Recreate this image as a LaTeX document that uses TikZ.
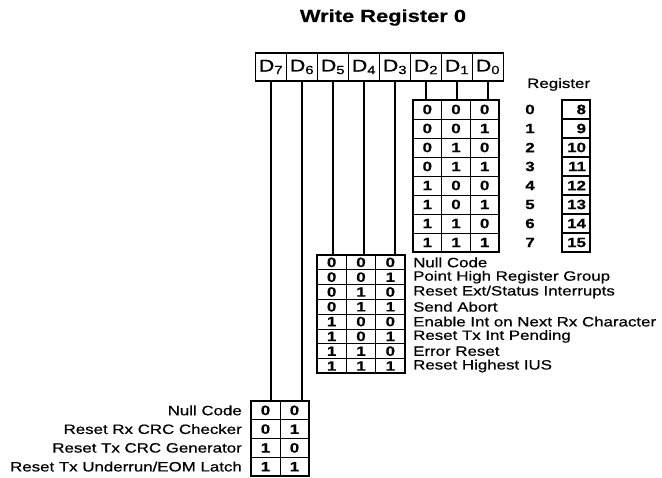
\documentclass[tikz,border=0pt]{standalone}
\usepackage{fontspec}
\setmainfont{Liberation Sans}[FakeStretch=1.25, FakeBold=0.6]
\begin{document}
\begin{tikzpicture}[x=1pt,y=-1pt]
\tikzset{
  hcell/.style={draw, line width=1.4pt, minimum width=31pt, minimum height=28pt, inner sep=0pt, font=\fontsize{17}{17}\selectfont},
  tbl/.style={draw, line width=1.8pt, inner sep=0pt},
  gridline/.style={line width=0.9pt},
  bit/.style={inner sep=0pt, font=\fontsize{13.5}{13.5}\selectfont\bfseries},
  lab/.style={inner sep=0pt, font=\fontsize{13.5}{13.5}\selectfont},
  wire/.style={line width=2pt},
  rcell/.style={draw, line width=1.3pt, minimum width=28pt, minimum height=19pt, inner sep=0pt, text width=20pt, align=right, font=\fontsize{13.5}{13.5}\selectfont\bfseries},
}
\useasboundingbox (0,0) rectangle (662,478);
\node[font=\fontsize{17.5}{17.5}\selectfont\bfseries] (title) at (383,17.5) {Write Register 0};
% header
\foreach \i in {0,...,7}
  \node[hcell] (d\i) at ({271+31*(7-\i)},67) {D\textsubscript{\i}};
% upper table
\node[tbl, minimum width=86pt, minimum height=152pt] (up) at (456,176) {};
\foreach \k in {1,2} \draw[gridline] ({413+28.67*\k},100) -- ({413+28.67*\k},252);
\foreach \r in {1,...,7} \draw[gridline] (413,{100+19*\r}) -- (499,{100+19*\r});
\foreach \r in {0,...,7} \foreach \c in {0,1,2} {
  \pgfmathtruncatemacro\b{mod(floor(\r/(2^(2-\c))),2)}
  \node[bit] (u\r\c) at ({427.33+28.67*\c},{109.5+19*\r}) {\b};
}
\foreach \i in {0,1,2} \draw[wire] (d\i.south) -- (d\i.south |- up.north);
% register column
\node[lab, anchor=south west] (reglab) at (527,91) {Register};
\foreach \r in {0,...,7} {
  \pgfmathtruncatemacro\n{\r+8}
  \node[bit] (rn\r) at (530,{109.5+19*\r}) {\r};
  \node[rcell] (rb\r) at (576,{109.5+19*\r}) {\n};
}
% middle table
\node[tbl, minimum width=88pt, minimum height=118.4pt] (mid) at (361,314.2) {};
\foreach \k in {1,2} \draw[gridline] ({317+29.33*\k},255) -- ({317+29.33*\k},373.4);
\foreach \r in {1,...,7} \draw[gridline] (317,{255+14.8*\r}) -- (405,{255+14.8*\r});
\foreach \r in {0,...,7} \foreach \c in {0,1,2} {
  \pgfmathtruncatemacro\b{mod(floor(\r/(2^(2-\c))),2)}
  \node[bit] (m\r\c) at ({331.67+29.33*\c},{262.4+14.8*\r}) {\b};
}
\foreach \i in {3,4,5} \draw[wire] (d\i.south) -- (d\i.south |- mid.north);
\node[lab, anchor=west] (ml0) at (413,262.4) {Null Code};
\node[lab, anchor=west] (ml1) at (413,277.2) {Point High Register Group};
\node[lab, anchor=west] (ml2) at (413,292.0) {Reset Ext/Status Interrupts};
\node[lab, anchor=west] (ml3) at (413,306.8) {Send Abort};
\node[lab, anchor=west] (ml4) at (413,321.6) {Enable Int on Next Rx Character};
\node[lab, anchor=west] (ml5) at (413,336.4) {Reset Tx Int Pending};
\node[lab, anchor=west] (ml6) at (413,351.2) {Error Reset};
\node[lab, anchor=west] (ml7) at (413,366.0) {Reset Highest IUS};
% bottom table
\node[tbl, minimum width=58pt, minimum height=75pt] (bot) at (280,438.5) {};
\draw[gridline] (280,401) -- (280,476);
\foreach \r in {1,2,3} \draw[gridline] (251,{401+18.75*\r}) -- (309,{401+18.75*\r});
\foreach \r in {0,...,3} \foreach \c in {0,1} {
  \pgfmathtruncatemacro\b{mod(floor(\r/(2^(1-\c))),2)}
  \node[bit] (b\r\c) at ({265.5+29*\c},{410.4+18.75*\r}) {\b};
}
\foreach \i in {6,7} \draw[wire] (d\i.south) -- (d\i.south |- bot.north);
\node[lab, anchor=east] (bl0) at (242,410.4) {Null Code};
\node[lab, anchor=east] (bl1) at (242,429.1) {Reset Rx CRC Checker};
\node[lab, anchor=east] (bl2) at (242,447.9) {Reset Tx CRC Generator};
\node[lab, anchor=east] (bl3) at (242,466.6) {Reset Tx Underrun/EOM Latch};
\end{tikzpicture}
\end{document}
